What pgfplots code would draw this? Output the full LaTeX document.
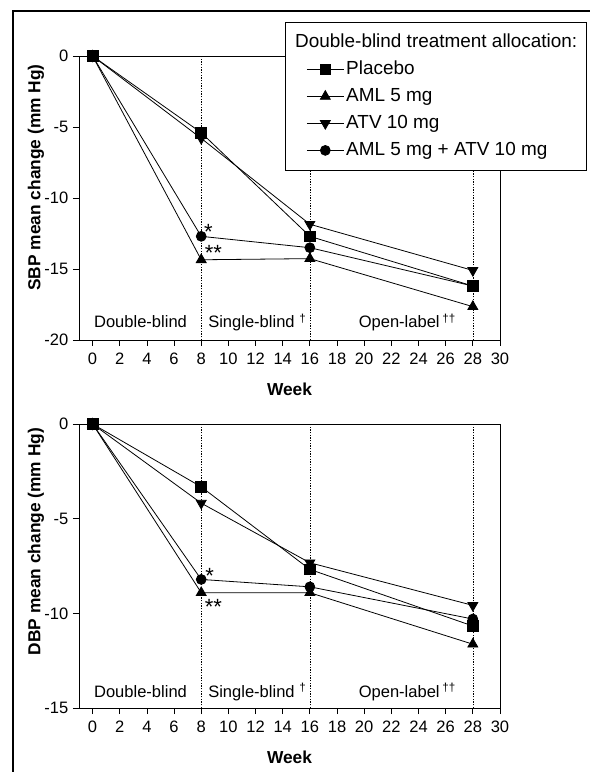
\documentclass[border=0pt]{standalone}
\usepackage{fontspec}
\setmainfont{Liberation Sans}
\usepackage{pgfplots}
\pgfplotsset{compat=1.18}

\tikzset{ann/.style={font=\fontsize{12.4}{14}\selectfont, inner sep=0pt},
         ast/.style={font=\fontsize{16.5}{18}\selectfont, inner sep=0pt}}
\pgfplotsset{
  plac/.style={mark=square*, mark size=4pt},
  aml/.style={mark=triangle*, mark size=4.3pt},
  atv/.style={mark=triangle*, mark size=4.3pt, mark options={rotate=180}},
  comb/.style={mark=*, mark size=3.7pt},
  dotl/.style={forget plot, no markers, line width=0.5pt, dash pattern=on 1pt off 1pt},
  myaxis/.style={
    scale only axis, width=315.75pt, height=213pt,
    xmin=-1, xmax=30, xtick={0,2,...,30},
    axis line style={line width=0.7pt, black},
    tick align=outside, tick pos=left, major tick length=4.5pt,
    tick style={line width=0.6pt, black},
    /pgf/number format/assume math mode=true,
    ticklabel style={font=\fontsize{12.4}{14}\selectfont},
    xticklabel style={yshift=-2pt},
    xlabel={Week},
    label style={font=\fontsize{13}{16}\selectfont\bfseries},
    xlabel style={at={(axis description cs:0.5,-0.1725)},anchor=center},
    every axis plot/.append style={black, line width=0.6pt, mark options={solid, fill=black}},
  }
}

\begin{document}
\begin{tikzpicture}
\path[use as bounding box] (0,0) rectangle (442.5pt,579pt);
\draw[line width=0.8pt] (9.75pt,0pt) -- (9.75pt,570.75pt) -- (442.5pt,570.75pt);

% ---------- SBP ----------
\begin{axis}[myaxis, at={(59.25pt,324pt)}, anchor=south west,
  ymin=-20, ymax=0, ytick={-20,-15,...,0},
  ylabel={SBP mean change (mm Hg)},
  ylabel style={at={(axis description cs:-0.102,0.572)},anchor=center},
  legend cell align=left,
  legend image code/.code={%
    \draw[white, line width=0.1pt] (-9pt,0pt) -- (0pt,0pt);
    \draw[mark repeat=2,mark phase=2] plot coordinates {(0pt,0pt)(13.875pt,0pt)(27.75pt,0pt)};},
  legend style={at={(1.2067,1.1197)}, anchor=north east, draw=black, line width=0.6pt,
    fill=white, font=\fontsize{14.2}{17}\selectfont, inner xsep=7pt, inner ysep=8.25pt,
    row sep=6.75pt, column sep=1.5pt,
    nodes={inner sep=0pt, text height=10.5pt, text depth=3pt}},
]
\addplot[dotl] coordinates {(8,-20) (8,0)};
\addplot[dotl] coordinates {(16,-20) (16,0)};
\addplot[dotl] coordinates {(28,-20) (28,0)};
\addlegendimage{empty legend}
\addlegendentry{\hspace*{-38.25pt}Double-blind treatment allocation:}
\addplot[plac] coordinates {(0,0) (8,-5.4) (16,-12.7) (28,-16.2)};
\addlegendentry{Placebo}
\addplot[aml] coordinates {(0,0) (8,-14.35) (16,-14.27) (28,-17.65)};
\addlegendentry{AML 5 mg}
\addplot[atv] coordinates {(0,0) (8,-5.8) (16,-11.85) (28,-15.1)};
\addlegendentry{ATV 10 mg}
\addplot[comb] coordinates {(0,0) (8,-12.7) (16,-13.5) (28,-16.2)};
\addlegendentry{AML 5 mg + ATV 10 mg}
\node[ann, anchor=base] at (axis cs:3.53,-19.15) {Double-blind};
\node[ann, anchor=base west] at (axis cs:8.5,-19.15) {Single-blind \textsuperscript{†}};
\node[ann, anchor=base west] at (axis cs:19.58,-19.15) {Open-label\,\textsuperscript{††}};
\node[ast, anchor=base west] at (axis cs:8.2,-12.9) {*};
\node[ast, anchor=base west] at (axis cs:8.24,-14.42) {**};
\end{axis}

% ---------- DBP ----------
\begin{axis}[myaxis, at={(59.25pt,48pt)}, anchor=south west,
  ymin=-15, ymax=0, ytick={-15,-10,...,0},
  ylabel={DBP mean change (mm Hg)},
  ylabel style={at={(axis description cs:-0.102,0.586)},anchor=center},
]
\addplot[dotl] coordinates {(8,-15) (8,0)};
\addplot[dotl] coordinates {(16,-15) (16,0)};
\addplot[dotl] coordinates {(28,-15) (28,0)};
\addplot[plac] coordinates {(0,0) (8,-3.32) (16,-7.68) (28,-10.67)};
\addplot[aml] coordinates {(0,0) (8,-8.91) (16,-8.91) (28,-11.63)};
\addplot[atv] coordinates {(0,0) (8,-4.18) (16,-7.33) (28,-9.58)};
\addplot[comb] coordinates {(0,0) (8,-8.21) (16,-8.6) (28,-10.3)};
\node[ann, anchor=base] at (axis cs:3.53,-14.46) {Double-blind};
\node[ann, anchor=base west] at (axis cs:8.5,-14.46) {Single-blind \textsuperscript{†}};
\node[ann, anchor=base west] at (axis cs:19.58,-14.46) {Open-label\,\textsuperscript{††}};
\node[ast, anchor=base west] at (axis cs:8.28,-8.45) {*};
\node[ast, anchor=base west] at (axis cs:8.24,-10.04) {**};
\end{axis}
\end{tikzpicture}
\end{document}
